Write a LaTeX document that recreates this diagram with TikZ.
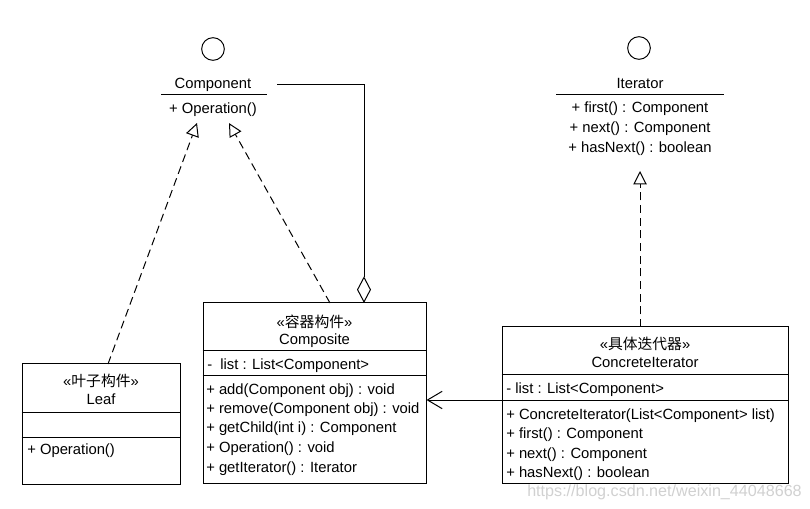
\documentclass[tikz,border=0pt]{standalone}
\usepackage{fontspec}
\setmainfont{Liberation Sans}
\newfontfamily\cjk{Noto Sans CJK SC}
\usetikzlibrary{arrows.meta,fit}
\newcommand{\umlsize}{\fontsize{11.1}{13}\selectfont}
\newcommand{\wmsize}{\fontsize{12.1}{14}\selectfont}
\begin{document}
\begin{tikzpicture}[x=0.75pt,y=-0.75pt,
  txt/.style={inner sep=0pt,text height=7.9pt,text depth=0pt,font=\umlsize},
  lt/.style={txt,anchor=west},
  umlbox/.style={draw,line width=0.75pt,inner sep=0pt},
  sepline/.style={line width=0.75pt},
  iface/.style={circle,draw,line width=0.75pt,minimum size=17pt,inner sep=0pt},
  realize/.style={line width=0.75pt,dash pattern=on 6pt off 3.5pt,
     -{Triangle[open,length=10pt,width=10pt,line width=0.75pt]}},
  navlink/.style={line width=0.75pt,-{Straight Barb[length=11pt,width=13pt,line width=0.75pt]}},
  aggr/.style={line width=0.75pt,{Diamond[open,length=20pt,width=10.5pt,line width=0.75pt]}-}
]
\useasboundingbox (0,0) rectangle (810,509);
\fill[white] (0,0) rectangle (810,509);

% ---------- Component interface ----------
\node[iface] (compCircle) at (213,49) {};
\node[txt] (compName) at (213,83) {Component};
\coordinate (compLineL) at (161,95);
\coordinate (compLineR) at (267,95);
\draw[sepline] (compLineL) -- (compLineR);
\node[txt] (compOp) at (213,108) {+ Operation()};
\coordinate (compLink) at (277,85);
\coordinate (tipL) at (197,123);
\coordinate (tipR) at (229,123);

% ---------- Iterator interface ----------
\node[iface] (iterCircle) at (639,48) {};
\node[txt] (iterName) at (640,83) {Iterator};
\coordinate (iterLineL) at (556,95);
\coordinate (iterLineR) at (724,95);
\draw[sepline] (iterLineL) -- (iterLineR);
\node[txt] (iterM1) at (640,107) {+ first() : Component};
\node[txt] (iterM2) at (640,127) {+ next() : Component};
\node[txt] (iterM3) at (640,147) {+ hasNext() : boolean};
\coordinate (iterTip) at (640,171);

% ---------- Leaf ----------
\node[umlbox,fit={(22,364) (180,484)}] (leaf) {};
\draw[sepline] (leaf.west |- 0,412) -- (leaf.east |- 0,412);
\draw[sepline] (leaf.west |- 0,437) -- (leaf.east |- 0,437);
\node[txt] (leafSt) at (101,381) {«{\cjk 叶子构件}»};
\node[txt] (leafName) at (101,399) {Leaf};
\node[lt] (leafOp) at (27,449) {+ Operation()};
\coordinate (leafTop) at (108,364);

% ---------- Composite ----------
\node[umlbox,fit={(203,303) (426,483)}] (composite) {};
\draw[sepline] (composite.west |- 0,351) -- (composite.east |- 0,351);
\draw[sepline] (composite.west |- 0,376) -- (composite.east |- 0,376);
\node[txt] (compoSt) at (314.5,322) {«{\cjk 容器构件}»};
\node[txt] (compoName) at (314.5,339) {Composite};
\node[lt] (compoList) at (207,364) {-\ \ list : List<Component>};
\node[lt] (compoM1) at (206,389) {+ add(Component obj) : void};
\node[lt] (compoM2) at (206,408) {+ remove(Component obj) : void};
\node[lt] (compoM3) at (206,427) {+ getChild(int i) : Component};
\node[lt] (compoM4) at (206,447) {+ Operation() : void};
\node[lt] (compoM5) at (206,467) {+ getIterator() : Iterator};
\coordinate (compoTopR) at (330,303);
\coordinate (compoDia) at (364,303);

% ---------- ConcreteIterator ----------
\node[umlbox,fit={(502,327) (788,483)}] (citer) {};
\draw[sepline] (citer.west |- 0,375) -- (citer.east |- 0,375);
\coordinate (ciSep) at (0,400);
\draw[sepline] (citer.west |- ciSep) -- (citer.east |- ciSep);
\node[txt] (citerSt) at (645,344) {«{\cjk 具体迭代器}»};
\node[txt] (citerName) at (645,362) {ConcreteIterator};
\node[lt] (citerList) at (506,388) {- list : List<Component>};
\node[lt] (citerM1) at (506,414) {+ ConcreteIterator(List<Component> list)};
\node[lt] (citerM2) at (506,433) {+ first() : Component};
\node[lt] (citerM3) at (506,453) {+ next() : Component};
\node[lt] (citerM4) at (506,472) {+ hasNext() : boolean};
\coordinate (citerTop) at (640,327);

% ---------- connectors ----------
\draw[realize] (leafTop) -- (tipL);
\draw[realize] (compoTopR) -- (tipR);
\draw[realize] (citerTop) -- (iterTip);
\draw[aggr] (compoDia) |- (compLink);
\draw[navlink] (citer.west |- ciSep) -- (composite.east |- ciSep);

% ---------- watermark ----------
\node[inner sep=0pt,anchor=west,font=\wmsize,text=black!18] (wm) at (527,492) {https://blog.csdn.net/weixin\_44048668};
\end{tikzpicture}
\end{document}
